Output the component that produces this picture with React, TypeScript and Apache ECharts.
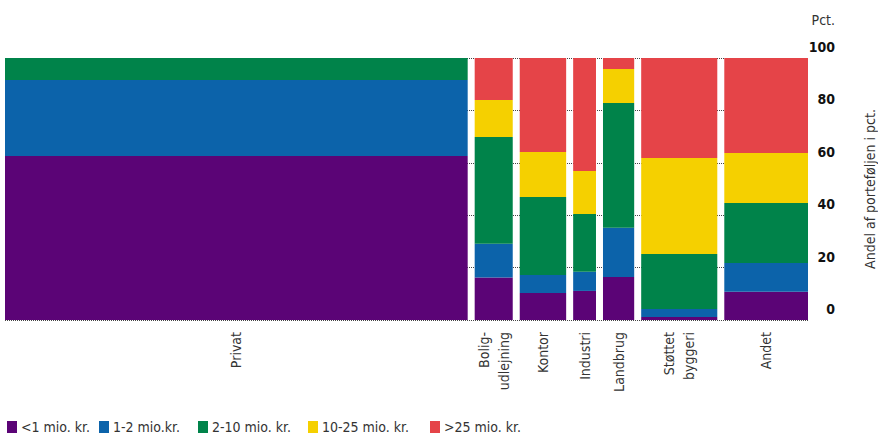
import React, { useEffect, useRef } from "react";
import * as echarts from "echarts";

const sectors = ["Privat", "Bolig-\nudlejning", "Kontor", "Industri", "Landbrug", "Støttet\nbyggeri", "Andet"];
const sectorShare = [60.8, 5.0, 6.1, 3.0, 4.1, 10.0, 11.0];
const sizeClasses = ["<1 mio. kr.", "1-2 mio.kr.", "2-10 mio. kr.", "10-25 mio. kr.", ">25 mio. kr."];
const lt1 = [62.6, 16.2, 10.3, 11.1, 16.4, 1.1, 10.8];
const m1to2 = [29.0, 12.9, 6.9, 7.3, 18.8, 3.1, 11.0];
const m2to10 = [8.4, 40.7, 29.7, 22.1, 47.6, 21.0, 22.9];
const m10to25 = [0, 14.2, 17.2, 16.4, 13.0, 36.6, 19.0];
const gt25 = [0, 16.0, 35.9, 43.1, 4.2, 38.2, 36.3];
const yTicks = [0, 20, 40, 60, 80, 100];

const classValues = [lt1, m1to2, m2to10, m10to25, gt25];
const colors = ["#5b0476", "#0c63aa", "#00834a", "#f5d000", "#e54448"];
const legendLeft = [7, 99, 198, 308, 430];
const GAP = 0.92;
const FONT = "'DejaVu Sans Condensed', 'Liberation Sans Narrow', sans-serif";

export default function App() {
  const ref = useRef<HTMLDivElement>(null);
  useEffect(() => {
    document.body.style.margin = "0";
    if (!ref.current) return;
    const chart = echarts.init(ref.current, null, { renderer: "svg" });

    const starts: number[] = [];
    const centers: number[] = [];
    let acc = 0;
    sectorShare.forEach((w, i) => {
      starts.push(acc);
      centers.push(acc + w / 2);
      acc += w + (i < sectorShare.length - 1 ? GAP : 0);
    });
    const xMax = acc;

    const series = sizeClasses.map((name, s) => {
      const data = sectors.map((_, i) => {
        let base = 0;
        for (let k = 0; k < s; k++) base += classValues[k][i];
        return [starts[i], starts[i] + sectorShare[i], base, base + classValues[s][i]];
      });
      return {
        type: "custom",
        name,
        color: colors[s],
        data,
        encode: { x: [0, 1], y: [2, 3] },
        renderItem: (params: any, api: any) => {
          const p0 = api.coord([api.value(0), api.value(3)]);
          const p1 = api.coord([api.value(1), api.value(2)]);
          return {
            type: "rect",
            shape: { x: p0[0], y: p0[1], width: p1[0] - p0[0], height: p1[1] - p0[1] },
            style: { fill: colors[s] },
          };
        },
      };
    });

    const dotted = { type: "dotted", color: "#444", width: 1 };

    chart.setOption({
      animation: false,
      grid: { left: 5, right: 70, top: 58, bottom: 119, containLabel: false, outerBoundsMode: "none" },
      legend: sizeClasses.map((name, s) => ({
        left: legendLeft[s],
        top: 420,
        itemWidth: 10,
        itemHeight: 12,
        icon: "rect",
        padding: 0,
        textStyle: { fontFamily: FONT, fontSize: 14, color: "#333", padding: [0, 0, 0, -1] },
        data: [name],
      })),
      xAxis: {
        type: "value",
        min: 0,
        max: xMax,
        axisLine: { show: false },
        axisTick: { show: false },
        splitLine: { show: false },
        axisLabel: {
          customValues: centers,
          rotate: 90,
          margin: 12,
          fontFamily: FONT,
          fontSize: 14,
          lineHeight: 20,
          color: "#333",
          formatter: (v: number) => {
            let best = 0;
            centers.forEach((c, i) => {
              if (Math.abs(c - v) < Math.abs(centers[best] - v)) best = i;
            });
            return sectors[best];
          },
        },
      },
      yAxis: {
        type: "value",
        position: "right",
        min: 0,
        max: 100,
        interval: 20,
        axisLine: { show: false },
        axisTick: { show: true, length: 30, lineStyle: dotted },
        splitLine: { show: true, lineStyle: dotted },
        axisLabel: {
          align: "right",
          verticalAlign: "bottom",
          margin: 27,
          padding: [0, 0, 4, 0],
          fontFamily: FONT,
          fontSize: 14,
          fontWeight: "bold",
          color: "#111",
          customValues: yTicks,
        },
        name: "Andel af porteføljen i pct.",
        nameLocation: "middle",
        nameRotate: 90,
        nameGap: 55,
        nameTextStyle: { fontFamily: FONT, fontSize: 14, color: "#333" },
      },
      graphic: [
        {
          type: "text",
          right: 43,
          top: 13,
          style: { text: "Pct.", fontFamily: FONT, fontSize: 14, fill: "#333" },
        },
      ],
      series,
    });
    return () => chart.dispose();
  }, []);
  return <div ref={ref} style={{ width: 878, height: 439 }} />;
}
